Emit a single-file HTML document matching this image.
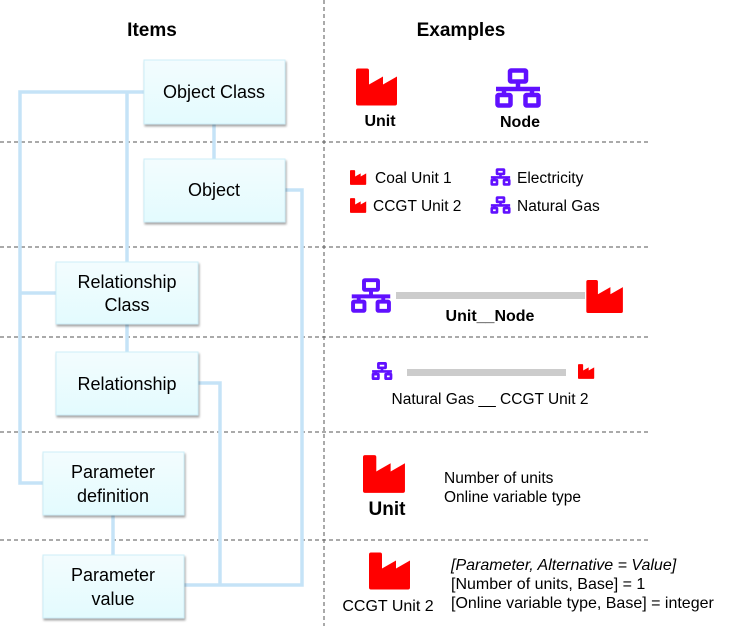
<!DOCTYPE html>
<html><head><meta charset="utf-8"><style>
body{margin:0;background:#fff;width:738px;height:626px;overflow:hidden;position:relative;font-family:"Liberation Sans",Arial,sans-serif}
svg{position:absolute;left:0;top:0}
</style></head><body>
<svg width="738" height="626" viewBox="0 0 738 626" xmlns="http://www.w3.org/2000/svg" font-family="Liberation Sans, Arial, sans-serif">
<defs>
<symbol id="fac" viewBox="0 0 43 37"><path d="M2 0h9a2 2 0 0 1 2 2v14l14-8v8l14-8v27a2 2 0 0 1-2 2H2a2 2 0 0 1-2-2V2a2 2 0 0 1 2-2z" fill="#ff0000"/></symbol>
<symbol id="node" viewBox="0 0 48 40"><g fill="none" stroke="#6010ff" stroke-width="4.5"><rect x="16" y="2.5" width="16" height="11" rx="1"/><path d="M24 14v6M2 21h44M10 21v6M38 21v6"/><rect x="3.5" y="27" width="13" height="10.5" rx="1"/><rect x="31.5" y="27" width="13" height="10.5" rx="1"/></g></symbol>
<symbol id="nodes" viewBox="0 0 48 40"><g fill="none" stroke="#6010ff" stroke-width="6"><rect x="16" y="3" width="16" height="10" rx="1"/><path d="M24 14v6M2 21h44M10 21v6M38 21v6"/><rect x="4" y="27" width="12" height="10" rx="1"/><rect x="32" y="27" width="12" height="10" rx="1"/></g></symbol>
<linearGradient id="bg" x1="0" y1="0" x2="0" y2="1"><stop offset="0" stop-color="#f3fcfe"/><stop offset="1" stop-color="#e3fbfe"/></linearGradient>
<filter id="sh" x="-10%" y="-10%" width="130%" height="140%"><feDropShadow dx="1" dy="2" stdDeviation="1" flood-color="#000" flood-opacity="0.35"/></filter>
</defs>
<g stroke="#555" stroke-width="1" stroke-dasharray="4,3">
<line x1="324" y1="0" x2="324" y2="626"/>
<line x1="0" y1="142" x2="650" y2="142"/>
<line x1="0" y1="247" x2="650" y2="247"/>
<line x1="0" y1="337" x2="650" y2="337"/>
<line x1="0" y1="432" x2="650" y2="432"/>
<line x1="0" y1="540" x2="650" y2="540"/>
</g>
<g stroke="#c5e3f7" stroke-width="3.5" fill="none">
<path d="M144 92H20V483H43"/>
<path d="M20 293H56"/>
<path d="M127 92V262M127 324V352"/>
<path d="M214 124V159"/>
<path d="M285 190H302V585H184"/>
<path d="M198 383H220V585"/>
<path d="M113 515V555"/>
</g>
<g fill="url(#bg)" stroke="#cdeef8" stroke-width="1" filter="url(#sh)">
<rect x="144" y="60" width="141" height="64"/>
<rect x="144" y="159" width="141" height="63"/>
<rect x="56" y="262" width="142" height="62"/>
<rect x="56" y="352" width="142" height="63"/>
<rect x="43" y="452" width="141" height="63"/>
<rect x="43" y="555" width="141" height="63"/>
</g>
<g font-size="18" fill="#000" text-anchor="middle">
<text x="214" y="98">Object Class</text>
<text x="214" y="196">Object</text>
<text x="127" y="288">Relationship</text>
<text x="127" y="311">Class</text>
<text x="127" y="390">Relationship</text>
<text x="113" y="478">Parameter</text>
<text x="113" y="502">definition</text>
<text x="113" y="581">Parameter</text>
<text x="113" y="605">value</text>
</g>
<g font-size="19" font-weight="bold" text-anchor="middle">
<text x="152" y="36">Items</text>
<text x="461" y="36">Examples</text>
</g>
<use href="#fac" x="356" y="68" width="43" height="38"/>
<text x="380" y="126" font-size="16" font-weight="bold" text-anchor="middle">Unit</text>
<use href="#node" x="494" y="68" width="48" height="40"/>
<text x="520" y="127" font-size="16" font-weight="bold" text-anchor="middle">Node</text>
<g font-size="15.5">
<use href="#fac" x="350" y="170" width="17" height="15"/>
<text x="375" y="183">Coal Unit 1</text>
<use href="#fac" x="350" y="198" width="17" height="15"/>
<text x="373" y="211">CCGT Unit 2</text>
<use href="#nodes" x="490" y="168" width="21" height="18"/>
<text x="517" y="183">Electricity</text>
<use href="#nodes" x="490" y="196" width="21" height="18"/>
<text x="517" y="211">Natural Gas</text>
</g>
<use href="#node" x="350" y="278" width="42" height="35"/>
<rect x="396" y="292" width="189" height="7" fill="#cccccc"/>
<use href="#fac" x="586" y="280" width="39" height="33"/>
<text x="490" y="321" font-size="16" font-weight="bold" text-anchor="middle">Unit__Node</text>
<use href="#nodes" x="371" y="362" width="22" height="18"/>
<rect x="407" y="369" width="159" height="7" fill="#cccccc"/>
<use href="#fac" x="578" y="364" width="17" height="15"/>
<text x="490" y="404" font-size="15.5" text-anchor="middle">Natural Gas __ CCGT Unit 2</text>
<use href="#fac" x="363" y="455" width="44" height="38"/>
<text x="387" y="515" font-size="19" font-weight="bold" text-anchor="middle">Unit</text>
<g font-size="15.5">
<text x="444" y="483">Number of units</text>
<text x="444" y="502">Online variable type</text>
</g>
<use href="#fac" x="369" y="552" width="43" height="38"/>
<text x="388" y="611" font-size="16" text-anchor="middle">CCGT Unit 2</text>
<g font-size="16">
<text x="451" y="570" font-style="italic">[Parameter, Alternative = Value]</text>
<text x="451" y="589">[Number of units, Base]  = 1</text>
<text x="451" y="608">[Online variable type, Base] = integer</text>
</g>
</svg>
</body></html>
